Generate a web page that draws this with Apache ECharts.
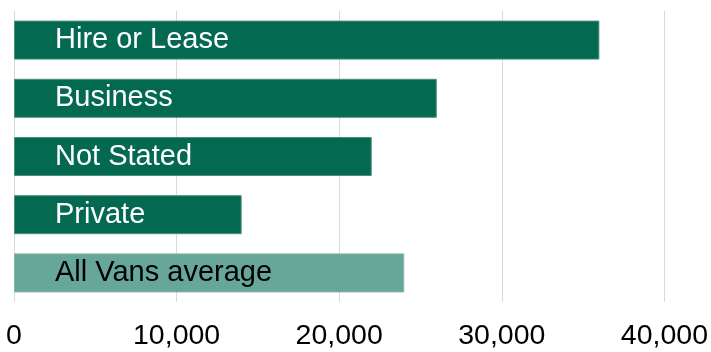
<!DOCTYPE html>
<html>
<head>
<meta charset="utf-8">
<script src="https://cdn.jsdelivr.net/npm/echarts@6/dist/echarts.min.js"></script>
<style>
  html, body { margin: 0; padding: 0; background: #ffffff; }
  #chart { width: 711px; height: 352px; }
</style>
</head>
<body>
<div id="chart"></div>
<script>
// Average annual mileage by van keeper type
const categories = ['Hire or Lease', 'Business', 'Not Stated', 'Private', 'All Vans average'];
const mileage = [36000, 26000, 22000, 14000, 24000];
const averageCategory = 'All Vans average';

const DARK = '#036951';
const LIGHT = '#67A799';
const FONT = '"Liberation Sans", Arial, sans-serif';

const seriesData = categories.map((name, i) => {
  const isAvg = name === averageCategory;
  return {
    value: mileage[i],
    itemStyle: {
      color: isAvg ? LIGHT : DARK,
      borderColor: isAvg ? '#7fb5a9' : '#4a8f7e',
      borderWidth: 1
    },
    label: { color: isAvg ? '#000000' : '#ffffff' }
  };
});

const chart = echarts.init(document.getElementById('chart'), null, { renderer: 'canvas' });
chart.setOption({
  animation: false,
  backgroundColor: '#ffffff',
  grid: { left: 14, right: 45, top: 11, bottom: 50, containLabel: false },
  xAxis: {
    type: 'value',
    min: 0,
    max: 40000,
    interval: 10000,
    axisLine: { show: false },
    axisTick: { show: false },
    splitLine: { show: true, lineStyle: { color: '#d9d9d9', width: 1 } },
    axisLabel: {
      color: '#000000',
      fontFamily: FONT,
      fontSize: 28.5,
      margin: 20,
      formatter: v => v.toLocaleString('en-GB')
    }
  },
  yAxis: {
    type: 'category',
    data: categories,
    inverse: true,
    axisLine: { show: false },
    axisTick: { show: false },
    axisLabel: { show: false }
  },
  series: [{
    type: 'bar',
    data: seriesData,
    barCategoryGap: '33%',
    label: {
      show: true,
      position: [41, '50%'],
      verticalAlign: 'middle',
      fontFamily: FONT,
      fontSize: 29,
      formatter: p => p.name
    }
  }]
});
</script>
</body>
</html>
